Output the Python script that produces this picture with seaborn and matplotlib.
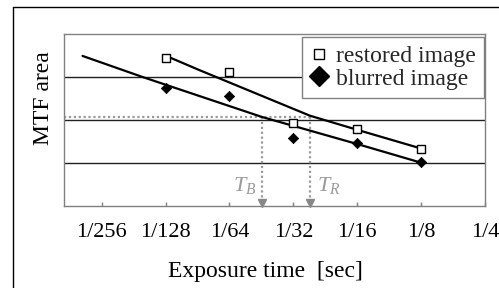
import numpy as np
import pandas as pd
import matplotlib
matplotlib.use("Agg")
import matplotlib.pyplot as plt
import seaborn as sns
from matplotlib.lines import Line2D

# ---- data (exposure exponents: time = 2**exp seconds) ----
exp_points = [-7, -6, -5, -4, -3]
restored_mtf = [3.44, 3.12, 1.93, 1.79, 1.33]
blurred_mtf = [2.74, 2.56, 1.58, 1.47, 1.02]

restored_fit_exp = [-6.99, -6.47, -4.74, -3.95, -3.03]
restored_fit_mtf = [3.49, 3.16, 2.10, 1.75, 1.35]
blurred_fit_exp = [-8.30, -7.36, -5.49, -3.95, -3.03]
blurred_fit_mtf = [3.49, 3.00, 2.07, 1.42, 1.02]

threshold_mtf = 2.07
T_B_exp = -5.49
T_R_exp = -4.74

tick_exps = [-8, -7, -6, -5, -4, -3, -2]
tick_labels = ["1/256", "1/128", "1/64", "1/32", "1/16", "1/8", "1/4"]

sns.set_theme(style="white")
plt.rcParams["font.family"] = ["Liberation Serif", "DejaVu Serif"]
plt.rcParams["mathtext.fontset"] = "custom"
plt.rcParams["mathtext.it"] = "Liberation Serif:italic"
plt.rcParams["mathtext.rm"] = "Liberation Serif"

W, H = 499, 288
fig = plt.figure(figsize=(W / 100, H / 100), dpi=100)
fig.patch.set_facecolor("white")
L, R, T, B = 64, 485, 34, 206
ax = fig.add_axes([L / W, 1 - B / H, (R - L) / W, (B - T) / H])

df = pd.DataFrame({
    "time": [2.0 ** e for e in exp_points] * 2,
    "mtf": restored_mtf + blurred_mtf,
    "kind": ["restored image"] * 5 + ["blurred image"] * 5,
})
fit_r = pd.DataFrame({"time": [2.0 ** e for e in restored_fit_exp], "mtf": restored_fit_mtf})
fit_b = pd.DataFrame({"time": [2.0 ** e for e in blurred_fit_exp], "mtf": blurred_fit_mtf})

ax.set_xscale("log", base=2)
grey = "#9a9a9a"

# gridlines
for g in [1, 2, 3]:
    ax.axhline(g, color="#202020", lw=1, zorder=1)

# threshold dotted line + arrows
tb, tr = 2.0 ** T_B_exp, 2.0 ** T_R_exp
xmin, xmax = 2.0 ** -8.59, 2.0 ** -2.03
ax.plot([xmin, tr], [threshold_mtf, threshold_mtf], color=grey, ls=(0, (1, 1.2)), lw=1.6, zorder=2)
for xv in [tb, tr]:
    ax.plot([xv, xv], [threshold_mtf, 0.1], color=grey, ls=(0, (1, 1.2)), lw=1.6, zorder=2)
    ax.plot([xv], [0.07], marker="v", ms=6, color="#888888", mec="#888888", zorder=3, clip_on=False)

# fit lines
sns.lineplot(data=fit_r, x="time", y="mtf", ax=ax, color="black", lw=1.6, sort=False, zorder=4)
sns.lineplot(data=fit_b, x="time", y="mtf", ax=ax, color="black", lw=1.6, sort=False, zorder=4)

# markers
sns.scatterplot(data=df[df.kind == "restored image"], x="time", y="mtf", ax=ax,
                marker="s", s=28, facecolor="white", edgecolor="black", linewidth=1, zorder=5, legend=False)
sns.scatterplot(data=df[df.kind == "blurred image"], x="time", y="mtf", ax=ax,
                marker="D", s=28, color="black", edgecolor="black", linewidth=0.5, zorder=5, legend=False)

ax.set_xlim(xmin, xmax)
ax.set_ylim(0, 4)
ax.set_yticks([])
ax.set_xticks([2.0 ** e for e in tick_exps])
ax.set_xticklabels(tick_labels, fontsize=16)
ax.xaxis.set_minor_locator(matplotlib.ticker.NullLocator())
ax.tick_params(axis="x", direction="in", length=3, width=1, color="#808080", pad=12,
               bottom=True, labelcolor="black")
for s in ax.spines.values():
    s.set_color("#808080")
    s.set_linewidth(1)

ax.set_xlabel("Exposure time  [sec]", fontsize=17, color="black")
ax.xaxis.set_label_coords((265 - L) / (R - L), (B - 277) / (B - T))
ax.xaxis.label.set_verticalalignment("baseline")
ax.set_ylabel("MTF area", fontsize=17, color="black")
ax.yaxis.set_label_coords((44 - L) / (R - L), (B - 98) / (B - T))
ax.yaxis.label.set(va="center", ha="center", rotation_mode="default")

# T_B, T_R annotations
ax.annotate("$T_B$", xy=(tb, 0), xytext=(-4, 7), textcoords="offset points",
            ha="right", va="bottom", fontsize=16, color=grey)
ax.annotate("$T_R$", xy=(tr, 0), xytext=(5, 7), textcoords="offset points",
            ha="left", va="bottom", fontsize=16, color=grey)

# legend
handles = [
    Line2D([], [], ls="none", marker="s", ms=7.5, mfc="white", mec="black", mew=1),
    Line2D([], [], ls="none", marker="D", ms=10, mfc="black", mec="black"),
]
leg = fig.legend(handles, ["restored image", "blurred image"], loc="upper right",
                 bbox_to_anchor=(484 / W, 1 - 37 / H), bbox_transform=fig.transFigure,
                 fontsize=17, frameon=True, fancybox=False, framealpha=1,
                 edgecolor="#808080", handlelength=0.8, handletextpad=0.3,
                 labelspacing=0.05, borderpad=0.35, borderaxespad=0)
leg.get_frame().set_linewidth(1)

# outer frame
fig.add_artist(Line2D([13 / W, 13 / W], [0, 1 - 7 / H], transform=fig.transFigure, color="black", lw=1))
fig.add_artist(Line2D([13 / W, 1], [1 - 7 / H, 1 - 7 / H], transform=fig.transFigure, color="black", lw=1))

fig.savefig("out.png", dpi=100)
